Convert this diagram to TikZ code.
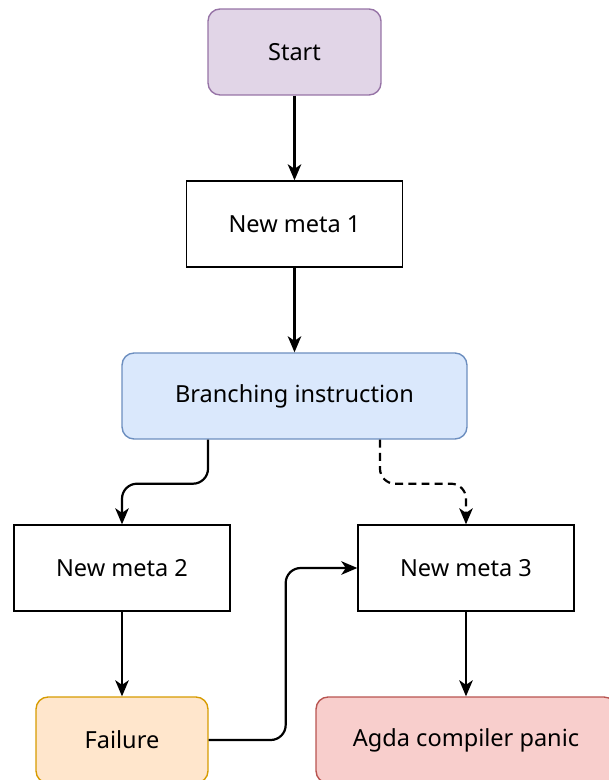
\documentclass[tikz,border=0pt]{standalone}
\usepackage{fontspec}
\setmainfont{Noto Sans}
\usetikzlibrary{arrows.meta}

\definecolor{startfill}{HTML}{E1D5E7}
\definecolor{startdraw}{HTML}{9673A6}
\definecolor{branchfill}{HTML}{DAE8FC}
\definecolor{branchdraw}{HTML}{6C8EBF}
\definecolor{failfill}{HTML}{FFE6CC}
\definecolor{faildraw}{HTML}{D79B00}
\definecolor{panicfill}{HTML}{F8CECC}
\definecolor{panicdraw}{HTML}{B85450}

\begin{document}
\begin{tikzpicture}[x=0.02cm, y=-0.02cm,
    every node/.style={draw=black, line width=0.8pt, minimum height=1.72cm, inner sep=0pt, font=\fontsize{13.4}{16}\selectfont},
    roundbox/.style={rounded corners=0.24cm},
    arr/.style={-{Stealth[length=0.32cm, width=0.27cm, inset=0.09cm]}, line width=1.25pt, rounded corners=0.3cm}]

     \useasboundingbox (0,0) rectangle (608,780);

     % Nodos del flujo
     \node[roundbox, fill=startfill, draw=startdraw, minimum width=3.46cm] (start) at (294.5,52) {Start};
     \node[fill=white, minimum width=4.32cm] (meta1) at (294.5,224) {New meta 1};
     \node[roundbox, fill=branchfill, draw=branchdraw, minimum width=6.9cm] (branch) at (294.5,396) {Branching instruction};
     \node[fill=white, minimum width=4.32cm] (meta2) at (122,568) {New meta 2};
     \node[fill=white, minimum width=4.32cm] (meta3) at (466,568) {New meta 3};
     \node[roundbox, fill=failfill, draw=faildraw, minimum width=3.44cm] (fail) at (122,740) {Failure};
     \node[roundbox, fill=panicfill, draw=panicdraw, minimum width=6cm] (panic) at (466,740) {Agda compiler panic};

     % Aristas rectas
     \draw[arr] (start) -- (meta1);
     \draw[arr] (meta1) -- (branch);
     \draw[arr] (meta2) -- (fail);
     \draw[arr] (meta3) -- (panic);

     % Aristas con esquinas
     \draw[arr] ([xshift=-1.73cm]branch.south) -- ++(0,44) -| (meta2.north);
     \draw[arr, dash pattern=on 4.5pt off 3pt] ([xshift=1.71cm]branch.south) -- ++(0,44) -| (meta3.north);
     \draw[arr] (fail.east) -- ++(77,0) |- (meta3.west);

\end{tikzpicture}
\end{document}
